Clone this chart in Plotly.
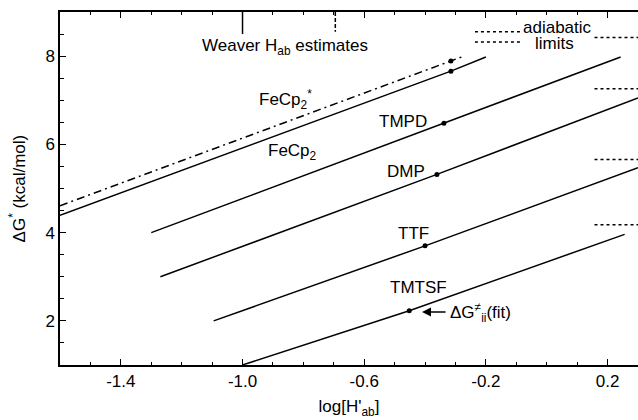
import plotly.graph_objects as go

# Data
names = ["FeCp2*", "FeCp2", "TMPD", "DMP", "TTF", "TMTSF"]
line_x = [
    [-1.60, -0.315, -0.28],
    [-1.60, -0.315, -0.20],
    [-1.30, -0.338, 0.243],
    [-1.27, -0.361, 0.30],
    [-1.095, -0.40, 0.30],
    [-1.00, -0.452, 0.256],
]
line_y = [
    [4.61, 7.89, 7.98],
    [4.39, 7.66, 7.98],
    [4.00, 6.48, 7.98],
    [3.00, 5.32, 7.05],
    [2.00, 3.70, 5.47],
    [1.00, 2.23, 3.96],
]
line_dash = ["8px,4px,2px,4px", "solid", "solid", "solid", "solid", "solid"]
fit_x = [-0.315, -0.315, -0.338, -0.361, -0.40, -0.452]
fit_y = [7.89, 7.66, 6.48, 5.32, 3.70, 2.23]

label_text = ["FeCp<sub>2</sub><sup>*</sup>", "FeCp<sub>2</sub>", "TMPD", "DMP", "TTF", "TMTSF"]
label_x = [-0.859, -0.836, -0.472, -0.462, -0.439, -0.423]
label_y = [7.02, 5.82, 6.52, 5.39, 3.98, 2.75]

# adiabatic limits (right side) and legend key segments
adiab_y = [8.42, 7.26, 5.66, 4.18]
adiab_x = [0.157, 0.30]
key_x = [-0.236, -0.085]
key_y = [8.55, 8.32]

# Weaver Hab estimates
weaver_x = [-1.0, -0.695]
weaver_ybot = [8.50, 8.55]
weaver_dash = ["solid", "4px,2px"]

FONT = "Liberation Sans, Arial, Helvetica, sans-serif"
FS = 17

fig = go.Figure()

for i in range(len(names)):
    fig.add_trace(go.Scatter(x=line_x[i], y=line_y[i], mode="lines",
                             line=dict(color="black", width=1.5, dash=line_dash[i]),
                             hoverinfo="skip", showlegend=False))

fig.add_trace(go.Scatter(x=fit_x, y=fit_y, mode="markers",
                         marker=dict(color="black", size=5),
                         showlegend=False))

for yv in adiab_y:
    fig.add_trace(go.Scatter(x=adiab_x, y=[yv, yv], mode="lines",
                             line=dict(color="black", width=1.5, dash="3px,3px"),
                             hoverinfo="skip", showlegend=False))
for yv in key_y:
    fig.add_trace(go.Scatter(x=key_x, y=[yv, yv], mode="lines",
                             line=dict(color="black", width=1.5, dash="3px,3px"),
                             hoverinfo="skip", showlegend=False))

for xv, yb, d in zip(weaver_x, weaver_ybot, weaver_dash):
    fig.add_trace(go.Scatter(x=[xv, xv], y=[9.0, yb], mode="lines",
                             line=dict(color="black", width=1.5, dash=d),
                             hoverinfo="skip", showlegend=False))

annotations = []
for t, xv, yv in zip(label_text, label_x, label_y):
    annotations.append(dict(x=xv, y=yv, text=t, showarrow=False,
                            font=dict(size=FS, color="black", family=FONT)))

annotations += [
    dict(x=-0.859, y=8.2, text="Weaver H<sub>ab</sub> estimates", showarrow=False,
         font=dict(size=FS, color="black", family=FONT)),
    dict(x=0.036, y=8.66, text="adiabatic", showarrow=False,
         font=dict(size=FS, color="black", family=FONT)),
    dict(x=0.026, y=8.29, text="limits", showarrow=False,
         font=dict(size=FS, color="black", family=FONT)),
    dict(x=-0.325, y=2.2, text="ΔG<sup>≠</sup><sub>ii</sub>(fit)", showarrow=False,
         xanchor="left", font=dict(size=FS, color="black", family=FONT)),
    dict(x=-0.41, y=2.2, ax=25, ay=0, text="", showarrow=True,
         arrowhead=2, arrowsize=1.2, arrowwidth=1.5, arrowcolor="black"),
    dict(xref="paper", yref="paper", x=-0.097, y=0.5, text="ΔG<sup>*</sup> (kcal/mol)",
         textangle=-90, showarrow=False, font=dict(size=FS, color="black", family=FONT)),
]

fig.update_layout(
    width=638, height=420,
    margin=dict(l=60, r=0, t=12, b=55),
    paper_bgcolor="white", plot_bgcolor="white",
    font=dict(family=FONT, size=FS, color="black"),
    annotations=annotations,
    xaxis=dict(range=[-1.6, 0.3], tickvals=[-1.4, -1.0, -0.6, -0.2, 0.2],
               ticktext=["-1.4", "-1.0", "-0.6", "-0.2", "0.2"],
               ticks="inside", ticklen=6, tickwidth=1, tickcolor="black",
               minor=dict(dtick=0.1, tick0=0, ticks="inside", ticklen=3, tickcolor="black"),
               showline=True, linecolor="black", linewidth=1.5, mirror="allticks",
               showgrid=False, zeroline=False,
               title=dict(text="log[H'<sub>ab</sub>]", standoff=10,
                          font=dict(size=FS, family=FONT))),
    yaxis=dict(range=[1, 9], tickvals=[2, 4, 6, 8],
               ticks="inside", ticklen=6, tickwidth=1, tickcolor="black",
               minor=dict(dtick=0.5, tick0=0, ticks="inside", ticklen=4, tickcolor="black"),
               showline=True, linecolor="black", linewidth=1.5, mirror=False,
               showgrid=False, zeroline=False),
)

fig.write_html("out.html")
